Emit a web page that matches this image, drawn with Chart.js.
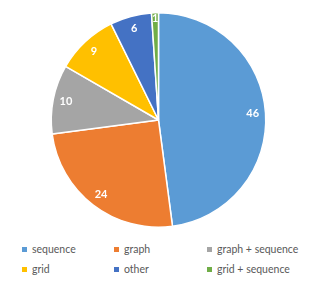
<!DOCTYPE html>
<html>
<head>
    <title>Pie</title>
    <script src="https://cdn.jsdelivr.net/npm/chart.js"></script>
    <style>
        body { margin: 0; background: #fff; width: 315px; height: 284px; overflow: hidden; font-family: Lato, "Open Sans", sans-serif; }
        #chart-container { position: relative; width: 315px; height: 232px; }
        #legend { position: absolute; left: 0; top: 240px; width: 315px; }
        .item { position: absolute; font-size: 10.5px; color: #595959; white-space: nowrap; line-height: 12px; }
        .item span { display: inline-block; width: 5px; height: 5px; margin-right: 5px; vertical-align: 1px; }
    </style>
</head>
<body>
    <div id="chart-container">
        <canvas id="pie-chart"></canvas>
    </div>
    <div id="legend"></div>

    <script>
        var categorias = ['sequence', 'graph', 'graph + sequence', 'grid', 'other', 'grid + sequence'];
        var valores = [46, 24, 10, 9, 6, 1];
        var colores = ['#5B9BD5', '#ED7D31', '#A5A5A5', '#FFC000', '#4472C4', '#70AD47'];

        // etiquetas blancas dentro de cada rebanada
        var etiquetas = {
            id: 'etiquetas',
            afterDatasetsDraw: function(chart) {
                var ctx = chart.ctx;
                var meta = chart.getDatasetMeta(0);
                ctx.save();
                ctx.fillStyle = '#fff';
                ctx.font = 'bold 11px Lato, sans-serif';
                ctx.textAlign = 'center';
                ctx.textBaseline = 'middle';
                meta.data.forEach(function(arc, i) {
                    var ang = (arc.startAngle + arc.endAngle) / 2;
                    var r = arc.outerRadius * (valores[i] < 3 ? 0.95 : 0.88);
                    ctx.fillText(valores[i], arc.x + Math.cos(ang) * r, arc.y + Math.sin(ang) * r);
                });
                ctx.restore();
            }
        };

        var ctx = document.getElementById('pie-chart').getContext('2d');
        var chart = new Chart(ctx, {
            type: 'pie',
            data: {
                labels: categorias,
                datasets: [{
                    data: valores,
                    backgroundColor: colores,
                    borderColor: '#fff',
                    borderWidth: 1.5
                }]
            },
            options: {
                responsive: true,
                maintainAspectRatio: false,
                animation: false,
                layout: { padding: { top: 12, bottom: 4, left: 2, right: 0 } },
                plugins: {
                    legend: { display: false },
                    tooltip: { enabled: false }
                }
            },
            plugins: [etiquetas]
        });

        // leyenda en tres columnas
        var colX = [22, 114, 207];
        var filaY = [243, 263];
        var legend = document.getElementById('legend');
        categorias.forEach(function(c, i) {
            var d = document.createElement('div');
            d.className = 'item';
            d.style.left = colX[i % 3] + 'px';
            d.style.top = (filaY[Math.floor(i / 3)] - 240) + 'px';
            d.innerHTML = '<span style="background:' + colores[i] + '"></span>' + c;
            legend.appendChild(d);
        });
    </script>
</body>
</html>
